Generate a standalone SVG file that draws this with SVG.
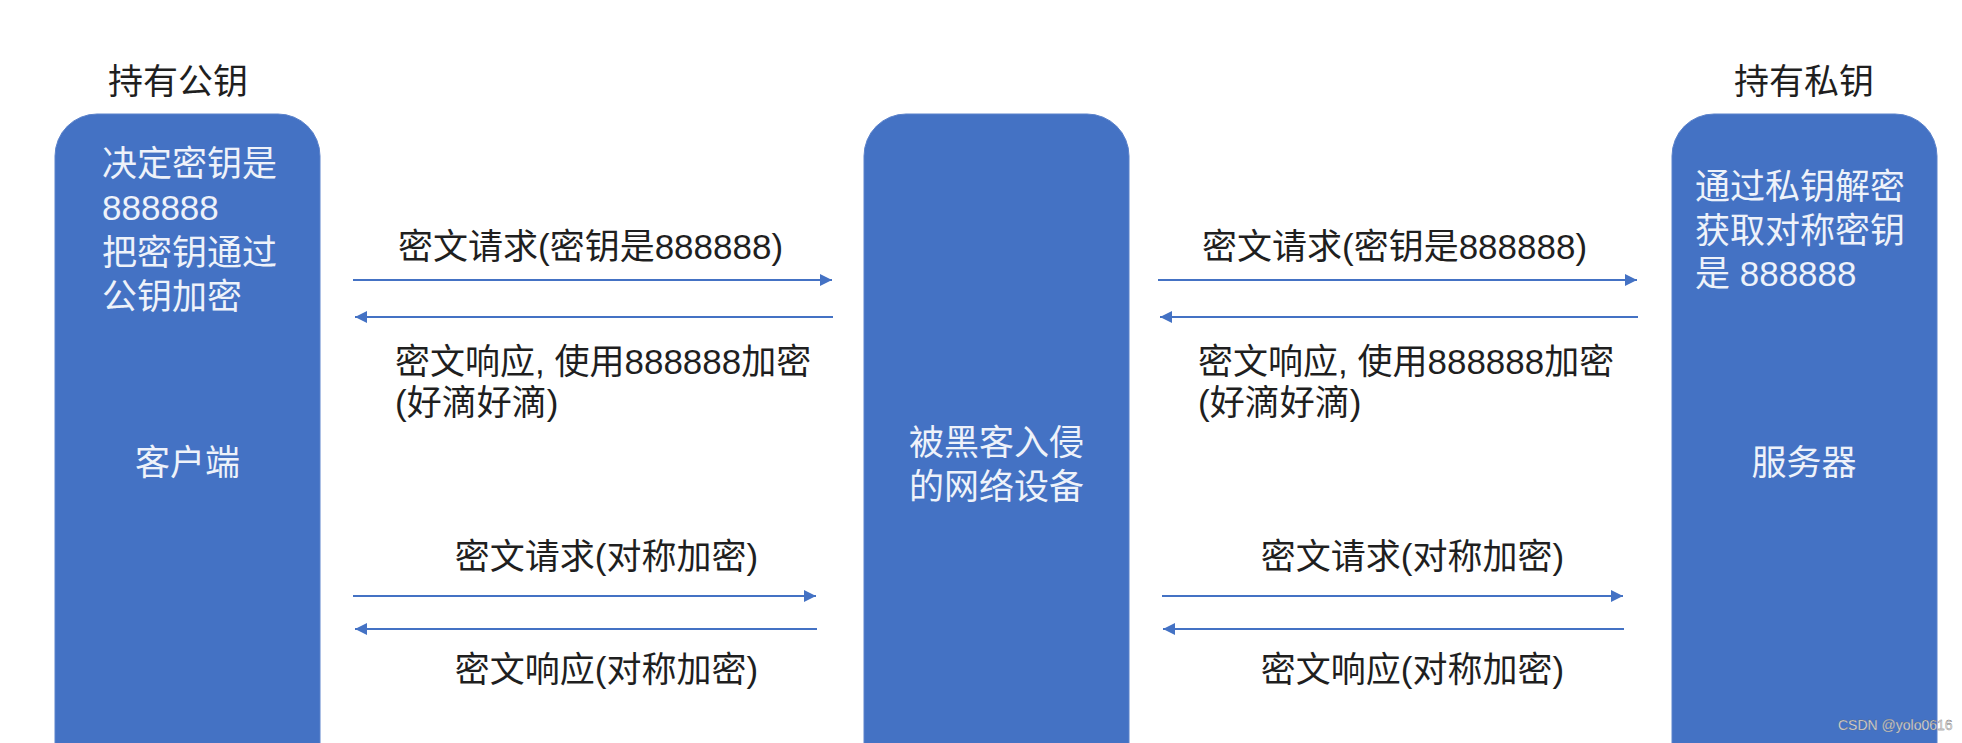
<svg xmlns="http://www.w3.org/2000/svg" width="1962" height="743" viewBox="0 0 1962 743">
<style>
  .box { fill: #4472C4; stroke: #5b82cb; stroke-width: 1; }
  .t { font-family: "Liberation Sans", "Noto Sans CJK SC", sans-serif; font-size: 35px; }
  .dark { fill: #1f1f1f; }
  .light { fill: #eef2fa; }
  .conn { stroke: #4472C4; stroke-width: 2; fill: none; }
  .wm { font-family: "Liberation Sans", "DejaVu Sans", sans-serif; font-size: 14px; fill: #e6e6e6; stroke: #666; stroke-width: 0.3; }
</style>
<defs>
  <marker id="ah" viewBox="0 0 10 10" refX="10" refY="5" markerWidth="6" markerHeight="6" markerUnits="strokeWidth" orient="auto">
    <path d="M0,0 L10,5 L0,10 Z" fill="#4472C4"/>
  </marker>
</defs>
<rect width="1962" height="743" fill="#ffffff"/>

<g id="client">
  <text class="t dark" x="108" y="94">持有公钥</text>
  <rect class="box" x="55" y="114" width="265" height="700" rx="42" ry="42"/>
  <text class="t light" x="102" y="176">决定密钥是</text>
  <text class="t light" x="102" y="220">888888</text>
  <text class="t light" x="102" y="265">把密钥通过</text>
  <text class="t light" x="102" y="309">公钥加密</text>
  <text class="t light" x="187.5" y="475" text-anchor="middle">客户端</text>
</g>

<g id="middle">
  <rect class="box" x="864" y="114" width="265" height="700" rx="42" ry="42"/>
  <text class="t light" x="996.5" y="455" text-anchor="middle">被黑客入侵</text>
  <text class="t light" x="996.5" y="499" text-anchor="middle">的网络设备</text>
</g>

<g id="server">
  <text class="t dark" x="1804" y="94" text-anchor="middle">持有私钥</text>
  <rect class="box" x="1672" y="114" width="265" height="700" rx="42" ry="42"/>
  <text class="t light" x="1695" y="199">通过私钥解密</text>
  <text class="t light" x="1695" y="243">获取对称密钥</text>
  <text class="t light" x="1695" y="286">是 888888</text>
  <text class="t light" x="1804" y="475" text-anchor="middle">服务器</text>
</g>

<g id="connectors">
  <line class="conn" x1="353" y1="280" x2="832" y2="280" marker-end="url(#ah)"/>
  <line class="conn" x1="833" y1="317" x2="355" y2="317" marker-end="url(#ah)"/>
  <line class="conn" x1="1158" y1="280" x2="1637" y2="280" marker-end="url(#ah)"/>
  <line class="conn" x1="1638" y1="317" x2="1160" y2="317" marker-end="url(#ah)"/>
  <line class="conn" x1="353" y1="596" x2="816" y2="596" marker-end="url(#ah)"/>
  <line class="conn" x1="817" y1="629" x2="355" y2="629" marker-end="url(#ah)"/>
  <line class="conn" x1="1162" y1="596" x2="1623" y2="596" marker-end="url(#ah)"/>
  <line class="conn" x1="1624" y1="629" x2="1163" y2="629" marker-end="url(#ah)"/>

  <text class="t dark" x="398" y="259">密文请求(密钥是888888)</text>
  <text class="t dark" x="395" y="374">密文响应, 使用888888加密</text>
  <text class="t dark" x="395" y="415">(好滴好滴)</text>
  <text class="t dark" x="1202" y="259">密文请求(密钥是888888)</text>
  <text class="t dark" x="1198" y="374">密文响应, 使用888888加密</text>
  <text class="t dark" x="1198" y="415">(好滴好滴)</text>
  <text class="t dark" x="606.5" y="569" text-anchor="middle">密文请求(对称加密)</text>
  <text class="t dark" x="606.5" y="682" text-anchor="middle">密文响应(对称加密)</text>
  <text class="t dark" x="1412.5" y="569" text-anchor="middle">密文请求(对称加密)</text>
  <text class="t dark" x="1412.5" y="682" text-anchor="middle">密文响应(对称加密)</text>
</g>

<text class="wm" x="1838" y="730">CSDN @yolo0616</text>
</svg>
